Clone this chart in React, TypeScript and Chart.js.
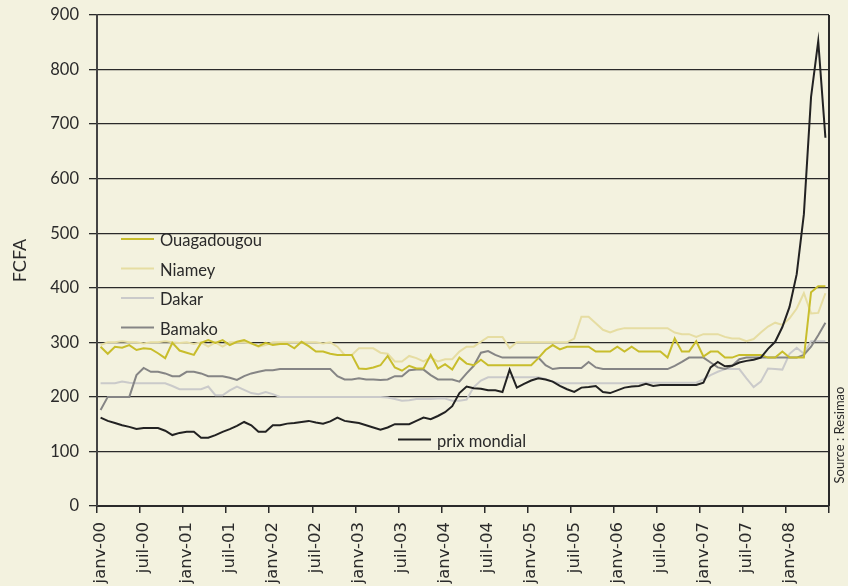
import React, { useEffect, useRef } from "react";
import { Chart, registerables } from "chart.js";

Chart.register(...registerables);

const monthNames = ["janv", "févr", "mars", "avr", "mai", "juin", "juil", "août", "sept", "oct", "nov", "déc"];
const yearSuffixes = ["00", "01", "02", "03", "04", "05", "06", "07", "08"];
const monthCount = 102; // janv-00 .. juin-08

const categories: string[] = [];
for (const y of yearSuffixes) {
  for (const m of monthNames) {
    if (categories.length < monthCount) categories.push(`${m}-${y}`);
  }
}

const ouagadougou = [
  292, 279, 292, 290, 295, 286, 289, 288, 280, 271,
  299, 285, 281, 277, 299, 304, 299, 304, 295, 301,
  304, 298, 293, 299, 295, 297, 297, 289, 301, 293,
  283, 283, 279, 277, 277, 277, 252, 251, 254, 258,
  275, 254, 248, 257, 252, 252, 277, 252, 260, 250,
  272, 261, 258, 268, 258, 258, 258, 258, 258, 258,
  258, 271, 286, 295, 287, 292, 292, 292, 292, 283,
  283, 283, 292, 283, 292, 283, 283, 283, 283, 272,
  307, 283, 283, 302, 274, 283, 283, 272, 272, 277,
  277, 277, 277, 272, 272, 283, 272, 272, 272, 392,
  403, 403,
];

const niamey = [
  295, 300, 300, 302, 300, 300, 298, 300, 300, 302,
  300, 299, 300, 297, 300, 292, 300, 292, 300, 300,
  300, 298, 292, 295, 300, 300, 300, 300, 300, 300,
  300, 298, 300, 292, 277, 277, 289, 289, 289, 281,
  279, 265, 265, 275, 271, 265, 272, 265, 269, 269,
  283, 292, 292, 301, 310, 310, 310, 289, 300, 300,
  300, 300, 300, 300, 300, 300, 307, 347, 347, 335,
  323, 318, 323, 326, 326, 326, 326, 326, 326, 326,
  318, 315, 315, 310, 315, 315, 315, 310, 307, 307,
  302, 306, 318, 329, 336, 332, 344, 362, 390, 353,
  354, 390,
];

const dakar = [
  225, 225, 225, 228, 226, 225, 225, 225, 225, 225,
  220, 214, 214, 214, 214, 219, 203, 203, 212, 219,
  213, 207, 205, 209, 205, 200, 200, 200, 200, 200,
  200, 200, 200, 200, 200, 200, 200, 200, 200, 200,
  199, 196, 193, 194, 196, 196, 196, 197, 197, 193,
  193, 195, 218, 230, 236, 236, 236, 236, 236, 236,
  236, 236, 233, 228, 225, 225, 225, 225, 225, 225,
  225, 225, 225, 225, 225, 225, 226, 226, 226, 226,
  226, 226, 226, 226, 232, 240, 246, 251, 251, 251,
  234, 218, 228, 252, 251, 250, 279, 290, 279, 302,
  302, 302,
];

const bamako = [
  176, 200, 200, 200, 200, 240, 253, 246, 246, 243,
  238, 238, 246, 246, 243, 238, 238, 238, 235, 231,
  238, 243, 246, 249, 249, 251, 251, 251, 251, 251,
  251, 251, 251, 238, 232, 232, 234, 232, 232, 231,
  232, 238, 238, 249, 250, 250, 240, 232, 232, 232,
  228, 243, 257, 281, 284, 277, 272, 272, 272, 272,
  272, 272, 258, 251, 253, 253, 253, 253, 264, 254,
  251, 251, 251, 251, 251, 251, 251, 251, 251, 251,
  257, 264, 272, 272, 272, 263, 254, 251, 257, 269,
  272, 272, 272, 272, 272, 272, 272, 272, 277, 292,
  313, 336,
];

const prixMondial = [
  162, 156, 152, 148, 145, 141, 143, 143, 143, 138,
  130, 134, 136, 136, 125, 125, 130, 136, 141, 147,
  154, 148, 136, 136, 148, 148, 151, 152, 154, 156,
  153, 151, 155, 162, 156, 154, 152, 148, 144, 140,
  144, 150, 150, 150, 156, 162, 159, 165, 172, 183,
  207, 219, 216, 215, 212, 212, 209, 250, 217, 224,
  230, 234, 232, 228, 220, 214, 209, 217, 218, 220,
  209, 207, 212, 217, 219, 220, 224, 220, 222, 222,
  222, 222, 222, 222, 226, 254, 264, 256, 257, 263,
  266, 268, 272, 288, 301, 328, 365, 425, 535, 750,
  852, 675,
];

const seriesNames = ["Ouagadougou", "Niamey", "Dakar", "Bamako", "prix mondial"];
const seriesColors = ["#c8bd2c", "#e6dda2", "#cacaca", "#858585", "#222222"];

const BG = "#f3f2df";
const INK = "#2a2a2a";

const overlayPlugin = {
  id: "overlay",
  afterDraw(chart: any) {
    const ctx = chart.ctx;
    const area = chart.chartArea;
    ctx.save();
    // right frame line
    ctx.strokeStyle = INK;
    ctx.lineWidth = 2;
    ctx.beginPath();
    ctx.moveTo(area.right, area.top);
    ctx.lineTo(area.right, area.bottom);
    ctx.stroke();

    // legend
    ctx.font = "16.5px Lato";
    ctx.textBaseline = "middle";
    ctx.textAlign = "left";
    const entries = [
      { i: 0, x: 121, y: 239 },
      { i: 1, x: 121, y: 268.5 },
      { i: 2, x: 121, y: 298 },
      { i: 3, x: 121, y: 327.5 },
      { i: 4, x: 398, y: 439.5 },
    ];
    for (const e of entries) {
      ctx.strokeStyle = seriesColors[e.i];
      ctx.lineWidth = 2;
      ctx.beginPath();
      ctx.moveTo(e.x, e.y);
      ctx.lineTo(e.x + 33, e.y);
      ctx.stroke();
      ctx.fillStyle = INK;
      ctx.fillText(seriesNames[e.i], e.x + 39, e.y + 2);
    }

    // source
    ctx.translate(840, 435);
    ctx.rotate(-Math.PI / 2);
    ctx.font = "13px Lato";
    ctx.textAlign = "center";
    ctx.fillStyle = INK;
    ctx.fillText("Source : Resimao", 0, 0);
    ctx.restore();
  },
};

export default function App() {
  const ref = useRef<HTMLCanvasElement | null>(null);

  useEffect(() => {
    if (!ref.current) return;
    const data = [ouagadougou, niamey, dakar, bamako, prixMondial];
    const orders = [1, 4, 3, 2, 0];
    const chart = new Chart(ref.current, {
      type: "line",
      data: {
        labels: categories,
        datasets: data.map((d, i) => ({
          label: seriesNames[i],
          data: d,
          borderColor: seriesColors[i],
          backgroundColor: seriesColors[i],
          borderWidth: 2,
          pointRadius: 0,
          tension: 0,
          fill: false,
          order: orders[i],
        })),
      },
      options: {
        animation: false,
        responsive: false,
        layout: { padding: { top: 15, right: 19, left: 0, bottom: 0 } },
        plugins: {
          legend: { display: false },
          tooltip: { enabled: false },
        },
        scales: {
          x: {
            type: "category",
            offset: true,
            grid: {
              offset: true,
              drawOnChartArea: false,
              drawTicks: true,
              tickLength: 7,
              lineWidth: 1.5,
              color: (c: any) =>
                c.type !== "tick" || c.index % 6 === 0 ? INK : "rgba(0,0,0,0)",
            },
            border: { display: true, color: INK, width: 2 },
            ticks: {
              autoSkip: false,
              minRotation: 90,
              maxRotation: 90,
              padding: 9,
              color: INK,
              font: { family: "DejaVu Sans", size: 16.5 },
              callback: (_v: any, i: number) => (i % 6 === 0 ? categories[i] : ""),
            },
            afterFit: (s: any) => {
              s.height = 80;
              s.paddingLeft = 0;
              s.paddingRight = 0;
            },
          },
          y: {
            min: 0,
            max: 900,
            ticks: {
              stepSize: 100,
              padding: 10,
              color: INK,
              font: { family: "Lato", size: 16.5 },
            },
            grid: {
              color: INK,
              lineWidth: 1.3,
              tickLength: 8,
            },
            border: { display: true, color: "#444", width: 2 },
            title: {
              display: true,
              text: "FCFA",
              color: INK,
              font: { family: "Lato", size: 18 },
              padding: { top: 9, bottom: 0 },
            },
            afterFit: (s: any) => {
              s.width = 97;
              s.paddingTop = 0;
              s.paddingBottom = 0;
            },
          },
        },
      },
      plugins: [overlayPlugin],
    });
    return () => chart.destroy();
  }, []);

  return (
    <div
      style={{
        position: "fixed",
        left: 0,
        top: 0,
        width: 848,
        height: 586,
        background: BG,
        overflow: "hidden",
      }}
    >
      <canvas ref={ref} width={848} height={586} style={{ display: "block" }} />
    </div>
  );
}
